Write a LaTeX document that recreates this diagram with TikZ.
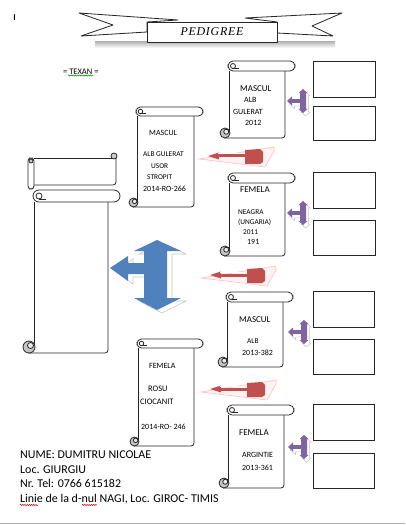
\documentclass[tikz,border=0pt]{standalone}
\usepackage{fontspec}
\setmainfont{Carlito}
\newfontfamily\serifit[LetterSpace=6]{Liberation Serif}
\usetikzlibrary{decorations.pathmorphing}
\definecolor{wblue}{HTML}{4F81BD}
\definecolor{wpurple}{HTML}{8064A2}
\definecolor{wred}{HTML}{C0504D}
\tikzset{
  scrl/.style={draw=black!85, line width=0.8bp},
  boxx/.style={draw=black!85, line width=0.8bp, minimum width=62bp, minimum height=36bp, inner sep=0},
  txt/.style={inner sep=0, anchor=west, text height=0.65em, text depth=0pt},
  fsa/.style={font=\fontsize{9}{10}\selectfont},
  fsb/.style={font=\fontsize{8}{9}\selectfont},
  fsc/.style={font=\fontsize{7.4}{8}\selectfont},
  fsd/.style={font=\fontsize{8.5}{9}\selectfont},
  fsbig/.style={font=\fontsize{12}{13}\selectfont},
  wavy/.style={decorate, decoration={snake, amplitude=0.6pt, segment length=2.2pt}, line width=0.5bp},
  shadowst/.style={fill=white, draw=gray!45, line width=0.5bp},
}
% vertical scroll: body-left x, top y, roll-right x, bottom y, roll size, corner radius
\newcommand\vscr[6]{%
  \draw[scrl, rounded corners=3bp] ({#1-#5/2},#4) -- ({#3-#5},#4) -- ({#3-#5},{#2+#5});
  \draw[scrl] (#1,{#2+#5}) -- (#1,{#4-#5/2});
  \draw[scrl, fill=white, rounded corners=#6bp] ({#1-1},#2) rectangle (#3,{#2+#5});
  \draw[scrl, fill=white] ({#1+#5/2-1},{#2+#5/2}) circle ({#5/4});
  \draw[scrl] ({#1+#5/2-1},{#2+#5/2+#5/4}) -- ({#1+#5},{#2+#5/2+#5/4});
  \draw[scrl, fill=gray!45] ({#1-#5/2+1},{#4-#5/2}) circle ({#5/2});
  \draw[scrl, fill=gray!15] ({#1-#5/2+1+#5/8},{#4-#5/2-#5/8}) circle ({#5/4});
}
% red arrow: tip x, centre y
\newcommand\redarr[2]{%
  \draw[red!25, fill=red!5, line width=0.6bp] ({#1-9},{#2+3}) -- ({#1+66},{#2-9}) -- ({#1+66},{#2-5}) -- ({#1+57},{#2+11}) -- cycle;
  \fill[wred] ({#1+8},{#2-1.5}) rectangle ({#1+39},{#2+1.5});
  \fill[wred] (#1,#2) -- ({#1+11},{#2-3.5}) -- ({#1+11},{#2+3.5}) -- cycle;
  \draw[white, line width=0.5bp] ({#1+10},{#2-2.8}) -- ({#1+37},{#2-2.8});
  \fill[wred] ({#1+37},{#2-6}) -- ({#1+52},{#2-7}) -- ({#1+55},{#2-4}) -- ({#1+55},{#2+6}) -- ({#1+52},{#2+8}) -- ({#1+37},{#2+8}) -- cycle;
}
% purple left-up-down arrow outline
\newcommand\purshape{(-16,0) -- (-11,-4.5) -- (-11,-1.8) -- (-3,-1.8) -- (-3,-8) -- (-4.5,-8) -- (0,-12) -- (4.5,-8) -- (3,-8) -- (3,8) -- (4.5,8) -- (0,12) -- (-4.5,8) -- (-3,8) -- (-3,1.8) -- (-11,1.8) -- (-11,4.5) -- cycle}
\newcommand\purarr[2]{%
  \path[shadowst, shift={({#1+2.5},{#2+3})}] \purshape;
  \path[fill=wpurple, shift={(#1,#2)}] \purshape;
}
\newcommand\blueshape{(110,268) -- (128,256) -- (128,263) -- (144,263) -- (144,251) -- (134,251) -- (157,240) -- (181,251) -- (167,251) -- (167,298) -- (181,298) -- (157,310) -- (134,298) -- (144,298) -- (144,274) -- (128,274) -- (128,281) -- cycle}
\begin{document}
\begin{tikzpicture}[x=1bp, y=-1bp]
\useasboundingbox[fill=white] (0,0) rectangle (405,525);

% cursor mark
\node[inner sep=0, font=\fontsize{9}{9}\selectfont\bfseries] (cur) at (14.5,18) {I};

% banner
\shade[top color=gray!55, bottom color=white] (95,42) rectangle (335,48);
\draw[scrl, fill=white, line join=round] (79,13) -- (178,20) -- (147,22) -- (147,32) -- (81,36) -- (113,25) -- cycle;
\draw[scrl, fill=white, line join=round] (342,13) -- (245,18) -- (277,22) -- (277,33) -- (333,36) -- (312,26) -- cycle;
\draw[scrl, fill=white] (147,22) rectangle (277,42);
\node[inner sep=0, font=\serifit\itshape\fontsize{12}{12}\selectfont] (title) at (212,32) {PEDIGREE};

% breed
\node[txt, fsd] (texan) at (63,71) {= TEXAN =};
\draw[green!55!black, wavy] (68,75.5) -- (93,75.5);

% left scrolls
\draw[scrl] (34,158) -- (113,158);
\draw[scrl, rounded corners=3bp] (116,157) -- (116,185) -- (34,185);
\draw[scrl, fill=white, rounded corners=3bp] (28,158) rectangle (34,189);
\draw[scrl, fill=gray!40] (31,161) circle (2);
\draw[scrl, fill=gray!40] (114,156) circle (3);
\vscr{34}{190}{120}{353}{12}{6}

% second column
\vscr{137}{107}{203}{207}{9}{4.5}
\vscr{138}{339}{203}{446}{9}{4.5}

% third column
\vscr{229}{61}{295}{138}{10}{5}
\vscr{229}{173}{295}{256}{10}{5}
\vscr{227}{292}{293}{367}{10}{5}
\vscr{228}{405}{294}{488}{10}{5}

% boxes
\node[boxx] (b1) at (344,79) {};
\node[boxx, minimum height=34bp] (b2) at (344,123) {};
\node[boxx] (b3) at (344,190) {};
\node[boxx, minimum height=35bp] (b4) at (344,237.5) {};
\node[boxx, minimum width=61bp] (b5) at (343.5,309) {};
\node[boxx, minimum width=61bp, minimum height=35bp] (b6) at (343.5,356.5) {};
\node[boxx, minimum width=61bp] (b7) at (343.5,422) {};
\node[boxx, minimum width=61bp, minimum height=35bp] (b8) at (343.5,470.5) {};

% purple arrows
\purarr{303}{101}
\purarr{303}{213}
\purarr{304}{332}
\purarr{304}{447}

% red arrows
\redarr{208}{156}
\redarr{210}{275}
\redarr{210}{389}

% blue arrow
\path[shadowst, line width=0.6bp, shift={(5,3)}] \blueshape;
\path[fill=wblue] \blueshape;

% texts: third column
\node[txt, fsa] (t1a) at (240,88) {MASCUL};
\node[txt, fsb] (t1b) at (244,99) {ALB};
\node[txt, fsb] (t1c) at (233,111) {GULERAT};
\node[txt, fsb] (t1d) at (245,122) {2012};

\node[txt, fsa] (t2a) at (240,189) {FEMELA};
\node[txt, fsc] (t2b) at (238,211) {NEAGRA};
\node[txt, fsc] (t2c) at (238,221) {(UNGARIA)};
\node[txt, fsc] (t2d) at (243,231) {2011};
\node[txt, fsb] (t2e) at (247,241) {191};

\node[txt, fsa] (t3a) at (239,319) {MASCUL};
\node[txt, fsc] (t3b) at (247,340) {ALB};
\node[txt, fsb] (t3c) at (242,352) {2013-382};

\node[txt, fsa] (t4a) at (239,432) {FEMELA};
\node[txt, fsb] (t4b) at (242,454) {ARGINTIE};
\node[txt, fsb] (t4c) at (242,467) {2013-361};

% texts: second column
\node[txt, fsb] (s1a) at (149,132) {MASCUL};
\node[txt, fsc] (s1b) at (143,153) {ALB GULERAT};
\node[txt, fsc] (s1c) at (151,165) {USOR};
\node[txt, fsc] (s1d) at (147,176) {STROPIT};
\node[txt, fsb] (s1e) at (143,188) {2014-RO-266};

\node[txt, fsb] (s2a) at (149,365) {FEMELA};
\node[txt, fsd] (s2b) at (148,388) {ROSU};
\node[txt, fsd] (s2c) at (140,401) {CIOCANIT};
\node[txt, fsb] (s2d) at (141,426) {2014-RO- 246};

% owner
\node[txt, fsbig] (o1) at (20,455) {NUME: DUMITRU NICOLAE};
\node[txt, fsbig] (o2) at (20,470) {Loc. GIURGIU};
\node[txt, fsbig] (o3) at (20,484.5) {Nr. Tel: 0766 615182};
\node[txt, fsbig] (o4) at (20,499) {Linie de la d-nul NAGI, Loc. GIROC- TIMIS};
\draw[red!80!black, wavy] (20,505) -- (38,505);
\draw[red!80!black, wavy] (82,505) -- (97,505);

% page edge
\draw[gray!60, line width=1bp] (0,523) -- (405,523);
\end{tikzpicture}
\end{document}
